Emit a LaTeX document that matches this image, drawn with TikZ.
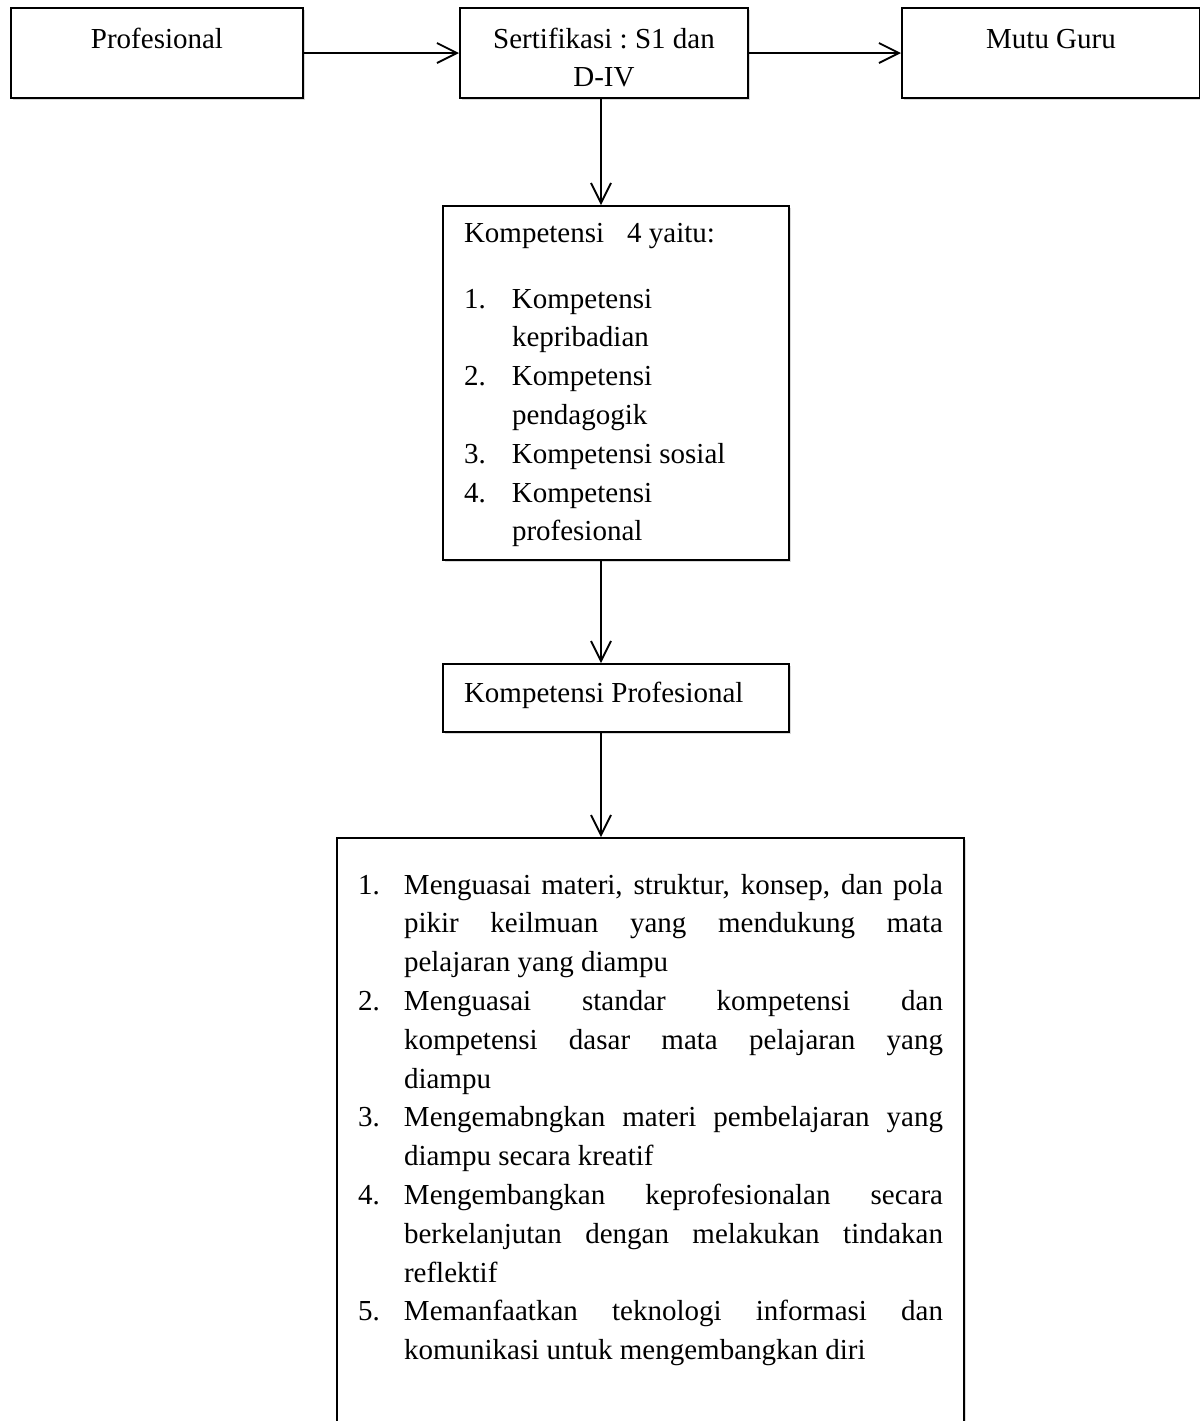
\documentclass[tikz,border=0pt]{standalone}
\usepackage{fontspec}
\setmainfont{Liberation Serif}
\usetikzlibrary{arrows.meta,shadows}

% justified line of the list box
\newcommand{\jline}[1]{{\spaceskip=0pt\xspaceskip=0pt\makebox[269.5pt][s]{#1}}}

\tikzset{
  box/.style={draw, fill=white, line width=1pt, anchor=north west, inner sep=0pt,
    font=\fontsize{14.5}{19.4}\selectfont,
    drop shadow={shadow xshift=0.8pt, shadow yshift=-1.2pt, opacity=0.3}},
  topbox/.style={box, align=center, text height=20pt, text depth=25pt,
    execute at begin node={\spaceskip=.25em\xspaceskip=.25em}},
  listbox/.style={box, inner xsep=10.5pt, align=left,
    execute at begin node={\spaceskip=0pt\xspaceskip=0pt}},
  arr/.style={line width=0.9pt, -{Straight Barb[length=10pt, width=10pt, line width=0.9pt]}}
}

\begin{document}
\begin{tikzpicture}[x=0.5pt, y=-0.5pt]

\useasboundingbox (0, 0) rectangle (1200, 1421);
\clip (0, 0) rectangle (1200, 1421);

% top row
\node[topbox, text width=146pt] (prof) at (10, 7) {Profesional};
\node[topbox, text width=144pt] (sert) at (459, 7) {Sertifikasi : S1 dan\\D-IV};
\node[topbox, text width=149pt] (mutu) at (901, 7) {Mutu Guru};

% kompetensi
\node[listbox, text width=152pt, text height=18pt, text depth=159pt] (komp) at (442, 205) {%
Kompetensi\hspace{11.5pt}4 yaitu:\\[13.6pt]
\makebox[24pt][l]{1.}Kompetensi\\
\hspace*{24pt}kepribadian\\
\makebox[24pt][l]{2.}Kompetensi\\
\hspace*{24pt}pendagogik\\
\makebox[24pt][l]{3.}Kompetensi sosial\\
\makebox[24pt][l]{4.}Kompetensi\\
\hspace*{24pt}profesional};

\node[listbox, text width=152pt, text height=19pt, text depth=15pt] (kp) at (442, 663) {Kompetensi Profesional};

% list box
\node[listbox, text width=292.5pt, text height=28pt, text depth=273.5pt] (list) at (336, 837) {%
\makebox[23pt][l]{1.}\jline{Menguasai materi, struktur, konsep, dan pola}\\
\hspace*{23pt}\jline{pikir keilmuan yang mendukung mata}\\
\hspace*{23pt}pelajaran yang diampu\\
\makebox[23pt][l]{2.}\jline{Menguasai standar kompetensi dan}\\
\hspace*{23pt}\jline{kompetensi dasar mata pelajaran yang}\\
\hspace*{23pt}diampu\\
\makebox[23pt][l]{3.}\jline{Mengemabngkan materi pembelajaran yang}\\
\hspace*{23pt}diampu secara kreatif\\
\makebox[23pt][l]{4.}\jline{Mengembangkan keprofesionalan secara}\\
\hspace*{23pt}\jline{berkelanjutan dengan melakukan tindakan}\\
\hspace*{23pt}reflektif\\
\makebox[23pt][l]{5.}\jline{Memanfaatkan teknologi informasi dan}\\
\hspace*{23pt}komunikasi untuk mengembangkan diri};

% arrows
\draw[arr] (prof) -- (sert);
\draw[arr] (sert) -- (mutu);
\draw[arr] ([xshift=-1.5pt]sert.south) -- ([xshift=-1.5pt]sert.south |- komp.north);
\draw[arr] ([xshift=-7.5pt]komp.south) -- ([xshift=-7.5pt]komp.south |- kp.north);
\draw[arr] ([xshift=-7.5pt]kp.south) -- ([xshift=-7.5pt]kp.south |- list.north);

\end{tikzpicture}
\end{document}
